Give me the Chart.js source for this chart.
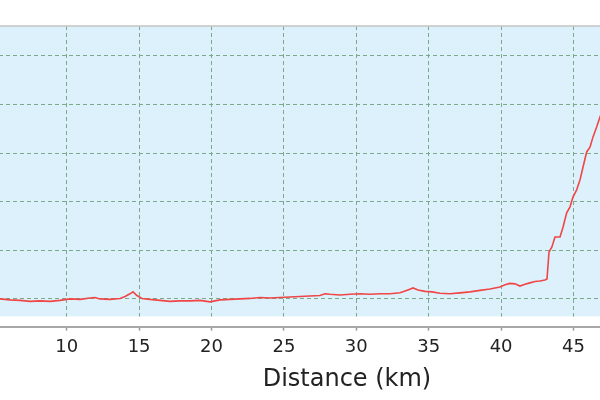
<!DOCTYPE html>
<html>
<head>
<meta charset="utf-8">
<script src="https://cdn.jsdelivr.net/npm/chart.js@4/dist/chart.umd.min.js"></script>
<style>
  html, body { margin: 0; padding: 0; background: #ffffff; overflow: hidden; width: 600px; height: 400px; }
  #wrap { position: absolute; left: -100px; top: 0; width: 872px; height: 400px; }
</style>
</head>
<body>
<div id="wrap"><canvas id="c" width="872" height="400"></canvas></div>
<script>
// Distance along the route (km)
const distKm = [5.0, 5.39, 6.08, 6.77, 7.46, 8.15, 8.85, 9.54, 10.23, 10.92,
  11.61, 11.95, 12.30, 12.99, 13.68, 14.03, 14.37, 14.58, 14.85, 15.20,
  15.75, 16.44, 17.13, 17.82, 18.52, 19.21, 19.90, 20.59, 21.28, 21.97,
  22.66, 23.35, 24.04, 24.73, 25.42, 26.11, 26.80, 27.49, 27.84, 28.18,
  28.87, 29.57, 30.26, 30.95, 31.64, 32.33, 33.02, 33.57, 33.92, 34.26,
  34.75, 35.23, 35.78, 36.47, 37.16, 37.85, 38.54, 39.23, 39.92, 40.27,
  40.61, 40.96, 41.30, 41.65, 41.99, 42.34, 42.68, 43.03, 43.17, 43.31,
  43.51, 43.72, 44.07, 44.28, 44.53, 44.76, 44.97, 45.22, 45.45, 45.66,
  45.91, 46.14, 46.35, 46.60, 46.83, 47.0];
// Elevation (m)
const elevM = [200, 200, 196, 194, 190, 192, 190, 194, 200, 198,
  204, 206, 200, 198, 202, 210, 221, 229, 214, 202,
  198, 194, 190, 192, 192, 194, 188, 196, 198, 200,
  202, 206, 204, 206, 208, 210, 212, 214, 221, 219,
  216, 219, 221, 219, 221, 221, 225, 237, 245, 237,
  231, 229, 223, 221, 225, 229, 235, 241, 249, 258,
  264, 262, 253, 260, 266, 272, 274, 278, 282, 393,
  414, 455, 455, 496, 554, 579, 620, 649, 690, 743,
  805, 825, 867, 908, 949, 975];
// Tick values
const xTicks = [5, 10, 15, 20, 25, 30, 35, 40, 45, 50, 55];
const yTicks = [200, 400, 600, 800, 1000, 1200];
const xTitle = 'Distance (km)';

const points = distKm.map((d, i) => ({ x: d, y: elevM[i] }));

const plotBg = {
  id: 'plotBg',
  beforeDraw(chart) {
    const { ctx, chartArea: a } = chart;
    ctx.save();
    ctx.fillStyle = '#dcf1fc';
    ctx.fillRect(a.left, a.top, a.right - a.left, a.bottom - a.top - 10);
    ctx.restore();
  },
  beforeDatasetsDraw(chart) {
    const { ctx, chartArea: a } = chart;
    ctx.save();
    ctx.fillStyle = '#ffffff';
    ctx.fillRect(a.left, a.bottom - 10, a.right - a.left, 9);
    ctx.strokeStyle = '#c4c4c4';
    ctx.lineWidth = 1.5;
    ctx.beginPath();
    ctx.moveTo(0, a.top);
    ctx.lineTo(chart.width, a.top);
    ctx.stroke();
    ctx.restore();
  }
};

new Chart(document.getElementById('c'), {
  type: 'line',
  data: {
    datasets: [{
      data: points,
      borderColor: '#f04646',
      borderWidth: 1.6,
      pointRadius: 0,
      tension: 0,
      fill: false
    }]
  },
  options: {
    responsive: false,
    animation: false,
    devicePixelRatio: 1,
    layout: { padding: { left: 21.9, right: 0, top: 26, bottom: 6 } },
    plugins: { legend: { display: false }, tooltip: { enabled: false }, title: { display: false } },
    scales: {
      x: {
        type: 'linear',
        min: 0,
        max: 58.71,
        afterBuildTicks(s) { s.ticks = xTicks.map(v => ({ value: v })); },
        ticks: {
          autoSkip: false,
          maxRotation: 0,
          padding: 6,
          color: '#222222',
          font: { family: 'DejaVu Sans', size: 18 }
        },
        grid: {
          color: '#7aaa8a',
          lineWidth: 1,
          drawTicks: true,
          tickLength: 4,
          tickColor: '#9a9a9a',
          tickWidth: 1.5,
          tickBorderDash: []
        },
        border: { display: true, color: '#a8a8a8', width: 2, dash: [4, 3] },
        title: {
          display: true,
          text: xTitle,
          color: '#222222',
          font: { family: 'DejaVu Sans', size: 24 },
          padding: { top: 1, bottom: 0 }
        }
      },
      y: {
        type: 'linear',
        min: 86,
        max: 1323.5,
        afterBuildTicks(s) { s.ticks = yTicks.map(v => ({ value: v })); },
        ticks: { display: false },
        grid: { color: '#7aaa8a', lineWidth: 1, drawTicks: false },
        border: { display: false, dash: [4, 3] }
      }
    }
  },
  plugins: [plotBg]
});
</script>
</body>
</html>
